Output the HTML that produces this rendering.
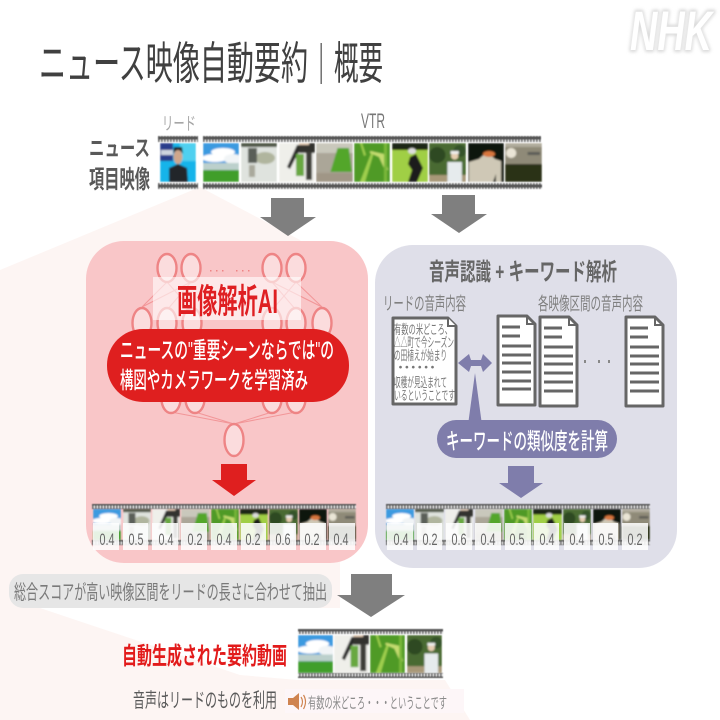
<!DOCTYPE html>
<html lang="ja"><head><meta charset="utf-8"><title>ニュース映像自動要約</title>
<style>
html,body{margin:0;padding:0;background:#fff;width:720px;height:720px;overflow:hidden}
svg{display:block}
text{font-family:"Liberation Sans","Noto Sans CJK JP",sans-serif}
</style></head><body>
<svg width="720" height="720" viewBox="0 0 720 720" xmlns="http://www.w3.org/2000/svg">
<defs>
<filter id="bl" x="-30%" y="-30%" width="160%" height="160%"><feGaussianBlur stdDeviation="1.6"/></filter>
<filter id="sm" x="-2%" y="-2%" width="104%" height="104%"><feGaussianBlur stdDeviation="0.45"/></filter>
<filter id="ph" x="0" y="0" width="100%" height="100%"><feGaussianBlur stdDeviation="0.9"/></filter>
<pattern id="perf" width="3" height="6" patternUnits="userSpaceOnUse"><rect width="3" height="6" fill="#555"/><rect x="0.6" y="1.6" width="1.6" height="2.8" fill="#e4e4e4"/></pattern>
<symbol id="t1" viewBox="0 0 36 39" preserveAspectRatio="none"><g filter="url(#ph)"><rect width="36" height="39" fill="#3a9ae0"/><ellipse cx="20" cy="9" rx="12" ry="4" fill="#fff"/><ellipse cx="12" cy="15" rx="13" ry="4" fill="#fff"/><ellipse cx="30" cy="16" rx="9" ry="5" fill="#f1f4f6"/><rect y="20" width="36" height="7" fill="#bcd0cc"/><rect y="27" width="36" height="12" fill="#3f9e2a"/></g></symbol>
<symbol id="t2" viewBox="0 0 36 39" preserveAspectRatio="none"><g filter="url(#ph)"><rect width="36" height="39" fill="#dfe3de"/><rect width="36" height="4" fill="#4e5444"/><ellipse cx="24" cy="15" rx="10" ry="6" fill="#b0b59e"/><rect x="7" y="5" width="9" height="15" fill="#5a5f58"/><rect x="8" y="22" width="6" height="12" fill="#a9a99c"/></g></symbol>
<symbol id="t3" viewBox="0 0 36 39" preserveAspectRatio="none"><g filter="url(#ph)"><rect width="36" height="39" fill="#efefea"/><path d="M8 24L18 2h6L16 16l-5 10z" fill="#2a2c2a"/><rect x="20" y="0" width="16" height="10" fill="#33332f"/><rect x="17" y="11" width="8" height="22" fill="#67a840"/><rect x="27" y="9" width="6" height="28" fill="#3c3c38"/><rect x="20" y="0" width="10" height="2" fill="#e0c8b0"/></g></symbol>
<symbol id="t4" viewBox="0 0 36 39" preserveAspectRatio="none"><g filter="url(#ph)"><rect width="36" height="39" fill="#aba698"/><rect width="36" height="10" fill="#c9c8bc"/><path d="M14 29L21 5h11l3 24z" fill="#52a62a"/><rect y="30" width="36" height="9" fill="#a09686"/></g></symbol>
<symbol id="t5" viewBox="0 0 36 39" preserveAspectRatio="none"><g filter="url(#ph)"><rect width="36" height="39" fill="#4f9a26"/><path d="M6 39L18 8l2 1L11 39zM8 0l4 12-2 1L6 0z" fill="#9fcf4e"/><path d="M16 8l14 3 4 16-3 0-6-13-9-4z" fill="#c4dc70"/><rect x="30" y="0" width="3" height="39" fill="#7ab83a"/></g></symbol>
<symbol id="t6" viewBox="0 0 36 39" preserveAspectRatio="none"><g filter="url(#ph)"><rect width="36" height="39" fill="#a0cf45"/><rect width="36" height="7" fill="#1c2614"/><ellipse cx="20" cy="8" rx="4" ry="3" fill="#ddd"/><path d="M18 14l6-3 7 14-6 14h-9l4-12-4-6z" fill="#1d1f1c"/></g></symbol>
<symbol id="t7" viewBox="0 0 36 39" preserveAspectRatio="none"><g filter="url(#ph)"><rect width="36" height="39" fill="#4a6a32"/><ellipse cx="8" cy="12" rx="8" ry="8" fill="#2f4a24"/><ellipse cx="30" cy="8" rx="6" ry="6" fill="#34522a"/><rect y="32" width="36" height="7" fill="#a89878"/><rect x="18" y="19" width="14" height="20" fill="#e6ebed"/><circle cx="25" cy="13" r="3.6" fill="#e6cdb0"/><rect x="21" y="8" width="8" height="3" fill="#eee"/></g></symbol>
<symbol id="t8" viewBox="0 0 36 39" preserveAspectRatio="none"><g filter="url(#ph)"><rect width="36" height="39" fill="#0e180b"/><path d="M1 39V19l10-3 8-7 8 7 6 2v21h-5v-8l-3 8z" fill="#cfc8b6"/><ellipse cx="21" cy="11" rx="6" ry="3" fill="#d8763c"/></g></symbol>
<symbol id="t9" viewBox="0 0 36 39" preserveAspectRatio="none"><g filter="url(#ph)"><rect width="36" height="39" fill="#8f8a78"/><circle cx="6" cy="10" r="5" fill="#eae5d6"/><rect x="22" y="9" width="12" height="3" fill="#5c5c56"/><rect y="0" width="36" height="4" fill="#b0ac9c"/><rect y="21" width="36" height="18" fill="#2a3018"/></g></symbol>
<symbol id="tl" viewBox="0 0 36 39" preserveAspectRatio="none"><g filter="url(#ph)"><rect width="36" height="39" fill="#14b4ea"/><rect x="20" width="16" height="18" fill="#4fd0f0"/><rect width="13" height="18" fill="#2a3c8c"/><rect x="1" y="7" width="12" height="5" fill="#cfd4e0"/><path d="M9 39V25l9-4 9 4 1 14z" fill="#24262c"/><ellipse cx="18" cy="14" rx="4.500" ry="7" fill="#cfa68b"/><path d="M13 11q5-8 10 0l-1-7h-8z" fill="#1b1b1f"/></g></symbol>
</defs>

<rect width="720" height="720" fill="#fff"/>
<polygon points="200,187 300,240 340,300 340,608 40,608 240,675 298,680 445,680 470,720 0,720 0,270" fill="#fdf5f3"/>

<!-- NHK -->
<text x="671" y="50" text-anchor="middle" font-size="56" font-weight="700" font-style="italic" fill="#fff" stroke="#d8d8d8" stroke-width="4" stroke-linejoin="round" textLength="82" lengthAdjust="spacingAndGlyphs" filter="url(#bl)">NHK</text>
<text x="671" y="50" text-anchor="middle" font-size="56" font-weight="700" font-style="italic" fill="#fff" textLength="82" lengthAdjust="spacingAndGlyphs">NHK</text>

<!-- Title -->
<text x="39" y="79" font-size="45" fill="#404040" textLength="269" lengthAdjust="spacingAndGlyphs">ニュース映像自動要約</text>
<rect x="320.500" y="43" width="1.400" height="41" fill="#666"/>
<text x="334" y="79" font-size="45" fill="#404040" textLength="49" lengthAdjust="spacingAndGlyphs">概要</text>

<!-- labels -->
<text x="162" y="130" font-size="18" fill="#a6a6a6" textLength="34" lengthAdjust="spacingAndGlyphs">リード</text>
<text x="361" y="128" font-size="21" fill="#777" textLength="24" lengthAdjust="spacingAndGlyphs">VTR</text>
<text x="89" y="156" font-size="22" font-weight="700" fill="#595959" textLength="61" lengthAdjust="spacingAndGlyphs">ニュース</text>
<text x="89" y="188" font-size="25" font-weight="700" fill="#595959" textLength="61" lengthAdjust="spacingAndGlyphs">項目映像</text>

<!-- lead film -->
<g filter="url(#sm)">
<rect x="158" y="136" width="40" height="6" fill="url(#perf)"/><rect x="158" y="183" width="40" height="6" fill="url(#perf)"/>
<use href="#tl" x="160" y="143" width="36" height="39"/>
<!-- VTR film -->
<rect x="203" y="136" width="338" height="6" fill="url(#perf)"/><rect x="203" y="183" width="339" height="6" fill="url(#perf)"/>
<use href="#t1" x="203" y="143" width="36" height="39"/>
<use href="#t2" x="241" y="143" width="36" height="39"/>
<use href="#t3" x="279" y="143" width="36" height="39"/>
<use href="#t4" x="316" y="143" width="37" height="39"/>
<use href="#t5" x="354" y="143" width="36" height="39"/>
<use href="#t6" x="392" y="143" width="36" height="39"/>
<use href="#t7" x="429" y="143" width="37" height="39"/>
<use href="#t8" x="468" y="143" width="36" height="39"/>
<use href="#t9" x="505" y="143" width="37" height="39"/>
</g>

<!-- grey arrows -->
<polygon points="271,198 304,198 304,217 316,217 288,236 260,217 271,217" fill="#7f7f7f"/>
<polygon points="442,195 475,195 475,214 487,214 459,233 431,214 442,214" fill="#7f7f7f"/>

<!-- LEFT PANEL -->
<rect x="86" y="241" width="282" height="322" rx="38" fill="#f9c6c8"/>
<g stroke="#f08a8c" stroke-width="1" fill="none" opacity=".8">
<path d="M142 307L167 282M142 307L191 282M322 307L296 282M322 307L272 282M167 282L192 310M191 282L167 310M272 282L296 310M296 282L272 310"/>
<path d="M171 412L234 424M195 412L234 424M272 412L234 424M296 412L234 424"/>
</g>
<g fill="#fbdcdd" stroke="#ee8485" stroke-width="2.400">
<ellipse cx="167" cy="268" rx="9.500" ry="14"/><ellipse cx="191" cy="268" rx="9.500" ry="14"/><ellipse cx="272" cy="268" rx="9.500" ry="14"/><ellipse cx="296" cy="268" rx="9.500" ry="14"/>
<ellipse cx="142" cy="323" rx="9.500" ry="15"/><ellipse cx="167" cy="323" rx="9.500" ry="15"/><ellipse cx="192" cy="323" rx="9.500" ry="15"/><ellipse cx="272" cy="323" rx="9.500" ry="15"/><ellipse cx="296" cy="323" rx="9.500" ry="15"/><ellipse cx="322" cy="323" rx="9.500" ry="15"/>
<ellipse cx="171" cy="399" rx="9.500" ry="14"/><ellipse cx="195" cy="399" rx="9.500" ry="14"/><ellipse cx="272" cy="399" rx="9.500" ry="14"/><ellipse cx="296" cy="399" rx="9.500" ry="14"/>
<ellipse cx="234" cy="440" rx="9.500" ry="16"/>
</g>
<g fill="#ee8485"><rect x="210" y="270" width="1.500" height="1.500"/><rect x="216" y="270" width="1.500" height="1.500"/><rect x="222" y="270" width="1.500" height="1.500"/><rect x="236" y="270" width="1.500" height="1.500"/><rect x="242" y="270" width="1.500" height="1.500"/><rect x="248" y="270" width="1.500" height="1.500"/></g>
<rect x="153" y="277" width="148" height="43" fill="#fff" opacity=".6"/>
<text x="177" y="313" font-size="34" font-weight="700" fill="#df1f22" textLength="101" lengthAdjust="spacingAndGlyphs">画像解析AI</text>
<rect x="107" y="329" width="242" height="73" rx="36" fill="#df1f1f"/>
<text x="120" y="358" font-size="23" font-weight="500" fill="#fff" textLength="214" lengthAdjust="spacingAndGlyphs">ニュースの"重要シーンならでは"の</text>
<text x="120" y="388" font-size="23" font-weight="500" fill="#fff" textLength="188" lengthAdjust="spacingAndGlyphs">構図やカメラワークを学習済み</text>
<polygon points="221,464 247,464 247,480 256,480 234,496 212,480 221,480" fill="#df1f1f"/>

<g filter="url(#sm)">
<rect x="92" y="504" width="264" height="5" fill="url(#perf)"/><rect x="92" y="540" width="264" height="5" fill="url(#perf)"/>
<use href="#t1" x="93" y="509" width="28" height="31"/>
<use href="#t2" x="123" y="509" width="28" height="31"/>
<use href="#t3" x="152" y="509" width="28" height="31"/>
<use href="#t4" x="181" y="509" width="29" height="31"/>
<use href="#t5" x="211" y="509" width="28" height="31"/>
<use href="#t6" x="240" y="509" width="28" height="31"/>
<use href="#t7" x="269" y="509" width="29" height="31"/>
<use href="#t8" x="299" y="509" width="28" height="31"/>
<use href="#t9" x="328" y="509" width="28" height="31"/>
</g>
<g fill="#fff" opacity=".87">
<rect x="93" y="523" width="26" height="27"/><rect x="123" y="523" width="25" height="27"/><rect x="152" y="523" width="26" height="27"/><rect x="181" y="523" width="26" height="27"/><rect x="211" y="523" width="26" height="27"/><rect x="241" y="523" width="25" height="27"/><rect x="270" y="523" width="26" height="27"/><rect x="300" y="523" width="26" height="27"/><rect x="329" y="523" width="26" height="27"/>
</g>
<g font-size="17" fill="#666" text-anchor="middle">
<text x="107" y="545" textLength="15" lengthAdjust="spacingAndGlyphs">0.4</text><text x="136" y="545" textLength="15" lengthAdjust="spacingAndGlyphs">0.5</text><text x="166" y="545" textLength="15" lengthAdjust="spacingAndGlyphs">0.4</text><text x="195" y="545" textLength="15" lengthAdjust="spacingAndGlyphs">0.2</text><text x="224" y="545" textLength="15" lengthAdjust="spacingAndGlyphs">0.4</text><text x="253" y="545" textLength="15" lengthAdjust="spacingAndGlyphs">0.2</text><text x="283" y="545" textLength="15" lengthAdjust="spacingAndGlyphs">0.6</text><text x="312" y="545" textLength="15" lengthAdjust="spacingAndGlyphs">0.2</text><text x="341" y="545" textLength="15" lengthAdjust="spacingAndGlyphs">0.4</text>
</g>

<!-- RIGHT PANEL -->
<rect x="375" y="245" width="302" height="323" rx="38" fill="#dfdfe9"/>
<text x="429" y="280" font-size="24" font-weight="700" fill="#666" textLength="188" lengthAdjust="spacingAndGlyphs">音声認識 + キーワード解析</text>
<text x="383" y="310" font-size="18" fill="#7f7f7f" textLength="83" lengthAdjust="spacingAndGlyphs">リードの音声内容</text>
<text x="538" y="310" font-size="18" fill="#7f7f7f" textLength="105" lengthAdjust="spacingAndGlyphs">各映像区間の音声内容</text>

<path d="M393 318H448L456 326V404H393Z" fill="#fff" stroke="#666" stroke-width="3" stroke-linejoin="round"/>
<path d="M448 318V326H456" fill="#fff" stroke="#666" stroke-width="2"/>
<g font-size="13" fill="#777">
<text x="394" y="334" textLength="58" lengthAdjust="spacingAndGlyphs">有数の米どころ、</text>
<text x="394" y="347" textLength="60" lengthAdjust="spacingAndGlyphs">△△町で今シーズン</text>
<text x="394" y="360" textLength="53" lengthAdjust="spacingAndGlyphs">の田植えが始まり</text>
<text x="394" y="372" textLength="45" lengthAdjust="spacing">・・・・・・</text>
<text x="394" y="387" textLength="53" lengthAdjust="spacingAndGlyphs">収穫が見込まれて</text>
<text x="394" y="400" textLength="61" lengthAdjust="spacingAndGlyphs">いるということです</text>
</g>

<g fill="#fff" stroke="#666" stroke-width="3" stroke-linejoin="round">
<path d="M498 316H527L535 324V405H498Z"/><path d="M540 317H569L577 325V406H540Z"/><path d="M626 317H655L663 325V406H626Z"/>
</g>
<g fill="none" stroke="#666" stroke-width="2">
<path d="M527 316V324H535M569 317V325H577M655 317V325H663"/>
</g>
<g stroke="#666" stroke-width="3">
<path d="M502 327H520M502 336H520M502 346H531M502 355H531M502 363H531M502 372H531M502 381H531M502 389H531"/>
<path d="M544 328H562M544 337H562M544 347H573M544 356H573M544 364H573M544 373H573M544 382H573M544 391H573"/>
<path d="M630 328H648M630 337H648M630 347H659M630 356H659M630 364H659M630 373H659M630 382H659M630 391H659"/>
</g>
<g fill="#888"><rect x="584" y="360" width="2" height="3"/><rect x="598" y="360" width="2" height="3"/><rect x="608" y="360" width="2" height="3"/></g>

<polygon points="458,363 469,354 471,360 481,360 483,354 492,363 483,372 481,366 471,366 469,372" fill="#7f7dab"/>
<polygon points="475,373 482,425 468,425" fill="#7f7dab"/>
<rect x="437" y="420" width="180" height="38" rx="19" fill="#7f7dab"/>
<text x="446" y="449" font-size="23" font-weight="500" fill="#fff" textLength="162" lengthAdjust="spacingAndGlyphs">キーワードの類似度を計算</text>
<polygon points="508,466 534,466 534,483 543,483 521,498 499,483 508,483" fill="#7f7dab"/>

<g filter="url(#sm)">
<rect x="386" y="504" width="264" height="5" fill="url(#perf)"/><rect x="386" y="540" width="264" height="5" fill="url(#perf)"/>
<use href="#t1" x="386" y="509" width="28" height="31"/>
<use href="#t2" x="415" y="509" width="29" height="31"/>
<use href="#t3" x="445" y="509" width="28" height="31"/>
<use href="#t4" x="475" y="509" width="28" height="31"/>
<use href="#t5" x="504" y="509" width="28" height="31"/>
<use href="#t6" x="533" y="509" width="29" height="31"/>
<use href="#t7" x="563" y="509" width="28" height="31"/>
<use href="#t8" x="593" y="509" width="28" height="31"/>
<use href="#t9" x="622" y="509" width="28" height="31"/>
</g>
<g fill="#fff" opacity=".87">
<rect x="387" y="523" width="26" height="27"/><rect x="417" y="523" width="25" height="27"/><rect x="446" y="523" width="26" height="27"/><rect x="475" y="523" width="26" height="27"/><rect x="505" y="523" width="26" height="27"/><rect x="534" y="523" width="25" height="27"/><rect x="564" y="523" width="26" height="27"/><rect x="593" y="523" width="25" height="27"/><rect x="622" y="523" width="26" height="27"/>
</g>
<g font-size="17" fill="#666" text-anchor="middle">
<text x="401" y="545" textLength="15" lengthAdjust="spacingAndGlyphs">0.4</text><text x="430" y="545" textLength="15" lengthAdjust="spacingAndGlyphs">0.2</text><text x="459" y="545" textLength="15" lengthAdjust="spacingAndGlyphs">0.6</text><text x="488" y="545" textLength="15" lengthAdjust="spacingAndGlyphs">0.4</text><text x="517" y="545" textLength="15" lengthAdjust="spacingAndGlyphs">0.5</text><text x="547" y="545" textLength="15" lengthAdjust="spacingAndGlyphs">0.4</text><text x="577" y="545" textLength="15" lengthAdjust="spacingAndGlyphs">0.4</text><text x="606" y="545" textLength="15" lengthAdjust="spacingAndGlyphs">0.5</text><text x="635" y="545" textLength="15" lengthAdjust="spacingAndGlyphs">0.2</text>
</g>

<!-- bottom -->
<rect x="9" y="574" width="323" height="34" rx="14" fill="#e6e6e6"/>
<text x="14" y="599" font-size="20" fill="#7a7a7a" textLength="313" lengthAdjust="spacingAndGlyphs">総合スコアが高い映像区間をリードの長さに合わせて抽出</text>
<polygon points="351,574 392,574 392,595 405,595 371,617 337,595 351,595" fill="#7f7f7f"/>

<text x="122" y="664" font-size="24" font-weight="700" fill="#e21b1b" textLength="165" lengthAdjust="spacingAndGlyphs">自動生成された要約動画</text>
<g filter="url(#sm)">
<rect x="298" y="629" width="145" height="5" fill="url(#perf)"/><rect x="298" y="673" width="145" height="5" fill="url(#perf)"/>
<use href="#t1" x="298" y="635" width="35" height="38"/>
<use href="#t3" x="334" y="635" width="35" height="38"/>
<use href="#t5" x="370" y="635" width="35" height="38"/>
<use href="#t7" x="407" y="635" width="35" height="38"/>
</g>

<text x="133" y="707" font-size="20" fill="#595959" textLength="144" lengthAdjust="spacingAndGlyphs">音声はリードのものを利用</text>
<rect x="285" y="689" width="179" height="24" fill="#fdf6f8"/>
<polygon points="288,698 293,698 299,693 299,710 293,705 288,705" fill="#cf8450"/>
<path d="M301 697q3 4.500 0 10M303.500 695q4 6.500 0 14" fill="none" stroke="#cf8450" stroke-width="1.200"/>
<text x="308" y="708" font-size="15" fill="#8a8a8a" textLength="139" lengthAdjust="spacingAndGlyphs">有数の米どころ・・・ということです</text>
</svg>
</body></html>
